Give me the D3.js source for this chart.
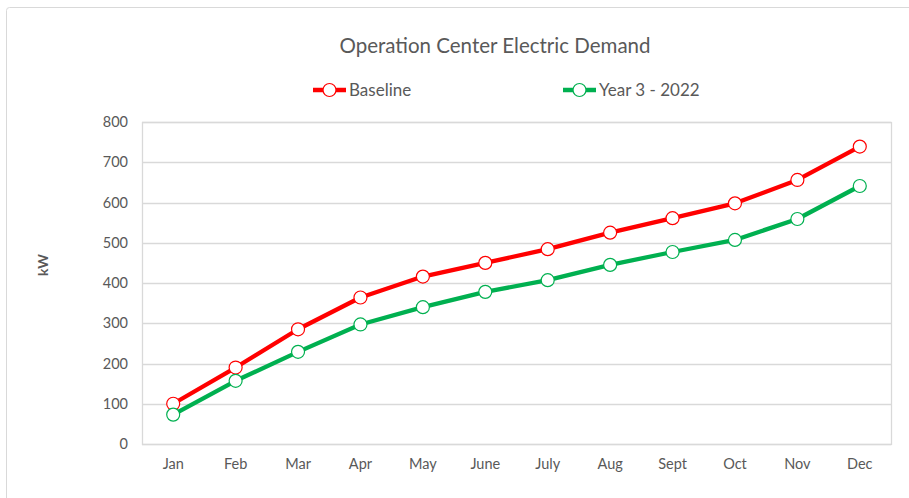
<!DOCTYPE html>
<html>
<head>
<meta charset="utf-8">
<script src="https://cdn.jsdelivr.net/npm/d3@7"></script>
<style>
  body { margin: 0; background: #fff; }
  text { font-family: Lato, "Liberation Sans", sans-serif; fill: #595959; }
</style>
</head>
<body>
<script>
// chart data
let months = ['Jan', 'Feb', 'Mar', 'Apr', 'May', 'June', 'July', 'Aug', 'Sept', 'Oct', 'Nov', 'Dec']
let baseline = [100, 190, 285, 364, 416, 450, 484, 525, 561, 598, 656, 739]
let year3 = [73, 157, 229, 297, 340, 378, 407, 445, 477, 507, 559, 641]
let yTicks = [0, 100, 200, 300, 400, 500, 600, 700, 800]

let series = [
  { name: 'Baseline', values: baseline, color: '#ff0000' },
  { name: 'Year 3 - 2022', values: year3, color: '#00b050' }
]

let width = 909, height = 498
let margin = { top: 122, right: 18, bottom: 54, left: 142 }

let svg = d3.select('body').append('svg')
  .attr('width', width)
  .attr('height', height)

// outer chart frame
svg.append('rect')
  .attr('x', 6.5).attr('y', 7.5)
  .attr('width', width + 10).attr('height', height + 10)
  .attr('rx', 3)
  .attr('fill', 'none')
  .attr('stroke', '#d9d9d9')

let x = d3.scaleBand()
  .domain(months)
  .range([margin.left, width - margin.right])

let y = d3.scaleLinear()
  .domain([0, 800])
  .range([height - margin.bottom, margin.top])

// gridlines
svg.append('g')
  .selectAll('line').data(yTicks).enter()
  .append('line')
  .attr('x1', margin.left).attr('x2', width - margin.right)
  .attr('y1', d => Math.round(y(d)) + 0.5).attr('y2', d => Math.round(y(d)) + 0.5)
  .attr('stroke', '#d9d9d9')
  .attr('stroke-width', 1.3)

// plot area border
svg.append('rect')
  .attr('x', margin.left + 0.5).attr('y', Math.round(y(800)) + 0.5)
  .attr('width', width - margin.right - margin.left)
  .attr('height', Math.round(y(0)) - Math.round(y(800)))
  .attr('fill', 'none')
  .attr('stroke', '#d9d9d9')
  .attr('stroke-width', 1.3)

let yAxis = svg.append('g')
  .attr('transform', `translate(${margin.left},0)`)
  .call(d3.axisLeft(y).tickValues(yTicks).tickSize(0).tickPadding(14))
yAxis.select('.domain').remove()
yAxis.selectAll('text').style('font-size', '14.5px').attr('fill', '#595959')

let xAxis = svg.append('g')
  .attr('transform', `translate(0,${height - margin.bottom})`)
  .call(d3.axisBottom(x).tickSize(0).tickPadding(15))
xAxis.select('.domain').remove()
xAxis.selectAll('text').style('font-size', '14.5px').attr('fill', '#595959')

// axis title
svg.append('text')
  .attr('transform', 'translate(48,265) rotate(-90)')
  .attr('text-anchor', 'middle')
  .style('font-size', '14px')
  .style('font-weight', 'bold')
  .text('kW')

// title
svg.append('text')
  .attr('x', 495).attr('y', 53)
  .attr('text-anchor', 'middle')
  .style('font-size', '20.5px')
  .text('Operation Center Electric Demand')

let line = d3.line()
  .x((d, i) => x(months[i]) + x.bandwidth() / 2)
  .y(d => y(d))

series.forEach(s => {
  let g = svg.append('g')
  g.append('path')
    .datum(s.values)
    .attr('d', line)
    .attr('fill', 'none')
    .attr('stroke', s.color)
    .attr('stroke-width', 4.3)
    .attr('stroke-linejoin', 'round')
  g.selectAll('circle').data(s.values).enter()
    .append('circle')
    .attr('cx', (d, i) => x(months[i]) + x.bandwidth() / 2)
    .attr('cy', d => y(d))
    .attr('r', 6.5)
    .attr('fill', '#fff')
    .attr('stroke', s.color)
    .attr('stroke-width', 1.2)
})

// legend
let legendX = [313, 563]
let legend = svg.append('g')
  .selectAll('g').data(series).enter()
  .append('g')
  .attr('transform', (d, i) => `translate(${legendX[i]},90)`)
legend.append('line')
  .attr('x1', 0).attr('x2', 33)
  .attr('stroke', d => d.color)
  .attr('stroke-width', 4.3)
legend.append('circle')
  .attr('cx', 16.5).attr('r', 6.5)
  .attr('fill', '#fff')
  .attr('stroke', d => d.color)
  .attr('stroke-width', 1.2)
legend.append('text')
  .attr('x', 36).attr('dy', '0.35em')
  .style('font-size', '17px')
  .text(d => d.name)
</script>
</body>
</html>
